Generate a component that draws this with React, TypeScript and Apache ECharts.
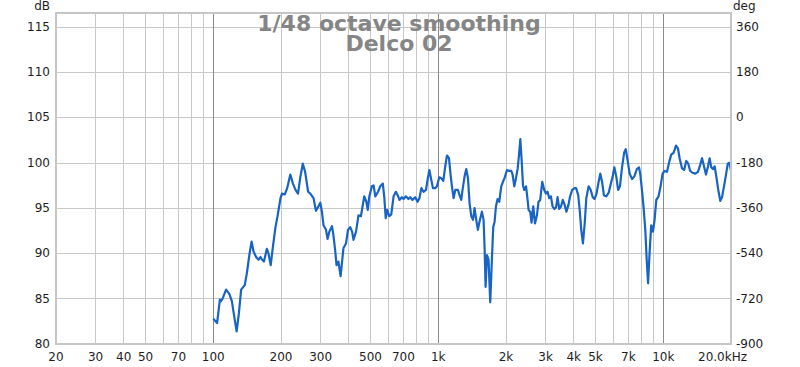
import React, { useEffect, useRef } from 'react';
import * as echarts from 'echarts';

const freqHz = [
  100, 104, 107, 108, 110, 114, 118, 121, 124, 127,
  130, 133, 138, 141, 145, 148, 151, 155, 159, 162,
  165, 168, 173, 176, 180, 184, 189, 193, 199, 202,
  208, 213, 220, 226, 232, 238, 244, 250, 256, 264,
  270, 279, 286, 292, 299, 304, 309, 317, 322, 328,
  337, 342, 348, 353, 360, 368, 373, 379, 389, 397,
  406, 414, 420, 431, 442, 453, 461, 469, 479, 486,
  494, 507, 516, 525, 540, 552, 567, 576, 584, 593,
  606, 618, 633, 648, 661, 672, 689, 701, 718, 737,
  750, 768, 790, 809, 825, 841, 860, 882, 896, 913,
  928, 947, 970, 987, 1010, 1031, 1053, 1074, 1093, 1116,
  1134, 1150, 1170, 1190, 1223, 1244, 1265, 1282, 1309, 1332,
  1355, 1378, 1402, 1427, 1450, 1475, 1500, 1525, 1563, 1590,
  1606, 1623, 1646, 1673, 1702, 1733, 1755, 1780, 1805, 1835,
  1867, 1905, 1939, 1970, 2020, 2069, 2111, 2140, 2177, 2215,
  2255, 2285, 2316, 2347, 2380, 2410, 2455, 2495, 2520, 2563,
  2597, 2644, 2690, 2745, 2790, 2839, 2898, 2958, 3010, 3060,
  3113, 3168, 3220, 3280, 3340, 3390, 3450, 3514, 3575, 3630,
  3712, 3785, 3855, 3935, 4035, 4100, 4190, 4265, 4320, 4395,
  4475, 4550, 4660, 4760, 4860, 4950, 5050, 5160, 5250, 5345,
  5450, 5580, 5720, 5820, 5960, 6060, 6180, 6300, 6420, 6550,
  6700, 6810, 6940, 7090, 7270, 7440, 7630, 7800, 7900, 8040,
  8180, 8320, 8440, 8560, 8690, 8840, 9000, 9150, 9310, 9530,
  9730, 9930, 10130, 10390, 10630, 10850, 11110, 11390, 11620, 11820,
  12110, 12380, 12650, 12910, 13170, 13480, 13870, 14270, 14600, 14870,
  15180, 15480, 15800, 16070, 16340, 16620, 16920, 17200, 17560, 17920,
  18240, 18560, 18950, 19350, 19690, 19960,
];

const splDb = [
  82.8, 82.3, 84.9, 84.7, 85.0, 86.0, 85.5, 84.7, 83.0, 81.4,
  83.4, 86.0, 86.5, 87.8, 90.0, 91.3, 90.2, 89.6, 89.3, 89.6,
  89.3, 89.1, 90.5, 90.0, 88.7, 90.7, 92.9, 94.1, 96.1, 96.6,
  96.5, 97.2, 98.7, 97.7, 97.0, 96.6, 98.5, 99.9, 99.0, 96.8,
  96.6, 96.1, 94.7, 95.1, 95.6, 94.6, 93.1, 92.6, 91.6, 92.4,
  93.0, 92.0, 90.4, 88.7, 89.1, 87.5, 88.9, 90.6, 91.1, 92.6,
  92.9, 92.4, 91.5, 92.4, 94.2, 94.1, 95.2, 96.3, 95.7, 94.8,
  96.3, 97.4, 97.5, 96.3, 96.8, 97.4, 97.7, 96.1, 93.9, 94.8,
  94.1, 94.3, 96.3, 96.8, 96.4, 95.9, 96.2, 96.0, 96.3, 96.0,
  96.2, 95.9, 96.2, 95.7, 96.1, 97.2, 96.8, 97.0, 98.1, 99.2,
  98.3, 97.2, 97.2, 97.4, 98.4, 98.3, 98.0, 99.6, 100.8, 100.5,
  98.7, 97.4, 96.1, 97.0, 97.0, 96.4, 95.9, 97.0, 98.5, 99.3,
  98.3, 95.5, 94.1, 93.7, 95.0, 93.7, 92.6, 93.5, 94.6, 93.7,
  90.7, 86.3, 89.8, 89.3, 84.6, 89.6, 92.9, 93.5, 95.2, 96.0,
  95.7, 97.4, 97.9, 98.3, 99.2, 99.1, 99.1, 98.7, 97.4, 98.3,
  99.4, 100.9, 102.6, 100.3, 97.5, 97.0, 97.4, 95.9, 94.8, 94.6,
  93.4, 95.2, 93.3, 94.2, 95.7, 95.9, 97.9, 97.0, 96.6, 96.8,
  96.1, 96.3, 95.2, 94.9, 95.1, 96.2, 94.9, 95.2, 95.9, 95.5,
  94.6, 95.3, 96.3, 97.0, 97.2, 97.2, 96.4, 94.4, 92.6, 91.1,
  93.3, 96.1, 97.4, 97.0, 96.2, 96.0, 96.6, 97.9, 98.8, 97.9,
  96.4, 96.3, 96.7, 97.5, 98.5, 99.5, 98.5, 97.0, 97.4, 99.4,
  101.1, 101.5, 100.3, 98.8, 98.2, 98.5, 99.3, 99.5, 98.8, 97.0,
  95.0, 92.6, 89.3, 86.7, 90.0, 93.1, 92.4, 93.7, 95.9, 96.3,
  97.4, 98.8, 99.1, 99.0, 100.1, 100.9, 101.1, 101.9, 101.6, 100.5,
  99.4, 99.2, 100.2, 99.9, 99.1, 98.9, 98.8, 99.0, 99.8, 100.5,
  99.6, 98.7, 99.6, 100.5, 99.5, 99.3, 99.6, 98.5, 97.0, 95.8,
  96.2, 97.2, 98.5, 99.9, 100.0, 99.2,
];

const dbTicks = [80, 85, 90, 95, 100, 105, 110, 115];
const degTicks = [-900, -720, -540, -360, -180, 0, 180, 360];
const freqLabels = [20, 30, 40, 50, 70, 100, 200, 300, 500, 700, 1000, 2000, 3000, 4000, 5000, 7000, 10000];
const minorGridHz = [
  30, 40, 50, 60, 70, 80, 90,
  200, 300, 400, 500, 600, 700, 800, 900,
  2000, 3000, 4000, 5000, 6000, 7000, 8000, 9000,
];
const decadeGridHz = [100, 1000, 10000];
const titleLines = ['1/48 octave smoothing', 'Delco 02'];

const F_MIN = 20;
const F_MAX = 20000;
const DB_MIN = 80;
const DB_MAX = 116.53;
const DEG_MIN = -900;
const DEG_MAX = 415;

const lg = (v: number) => Math.log10(v);

const fmtFreq = (v: number) => {
  const f = Math.round(Math.pow(10, v));
  if (f >= 1000) return f / 1000 + 'k';
  return String(f);
};

export default function App() {
  const ref = useRef<HTMLDivElement>(null);

  useEffect(() => {
    document.body.style.margin = '0';
    if (!ref.current) return;
    const chart = echarts.init(ref.current, undefined, { renderer: 'svg' });
    const font = 'DejaVu Sans';
    const labelStyle = { fontFamily: font, fontSize: 12, color: '#1e1e1e' };

    const titleStyle = (text: string) => ({
      text,
      fontFamily: font,
      fontWeight: 'bold',
      fontSize: 22,
      fill: '#858585',
      textAlign: 'center',
      textVerticalAlign: 'middle',
    });

    chart.setOption({
      animation: false,
      backgroundColor: '#ffffff',
      grid: {
        left: 56,
        top: 13,
        width: 675,
        height: 331,
        show: true,
        borderColor: '#c6c6c6',
        borderWidth: 2,
        backgroundColor: 'transparent',
        z: 10,
      },
      xAxis: [
        {
          type: 'value',
          min: lg(F_MIN),
          max: lg(F_MAX),
          axisLine: { show: false },
          axisTick: { show: false, customValues: minorGridHz.map(lg) },
          axisLabel: { show: false },
          splitLine: { show: true, lineStyle: { color: '#c8c8c8', width: 1 } },
        },
        {
          type: 'value',
          min: lg(F_MIN),
          max: lg(F_MAX),
          position: 'bottom',
          axisLine: { show: false },
          axisTick: { show: false, customValues: decadeGridHz.map(lg) },
          axisLabel: { show: false },
          splitLine: { show: true, lineStyle: { color: '#8a8a8a', width: 1 } },
        },
        {
          type: 'value',
          min: lg(F_MIN),
          max: lg(F_MAX),
          position: 'bottom',
          axisLine: { show: false },
          axisTick: { show: false, customValues: freqLabels.map(lg) },
          axisLabel: {
            ...labelStyle,
            margin: 7,
            customValues: freqLabels.map(lg),
            formatter: fmtFreq,
          },
          splitLine: { show: false },
        },
      ],
      yAxis: [
        {
          type: 'value',
          min: DB_MIN,
          max: DB_MAX,
          axisLine: { show: false },
          axisTick: { show: false, customValues: dbTicks },
          axisLabel: { ...labelStyle, margin: 6, customValues: dbTicks },
          splitLine: { show: true, lineStyle: { color: '#c8c8c8', width: 1 } },
        },
        {
          type: 'value',
          min: DEG_MIN,
          max: DEG_MAX,
          position: 'right',
          axisLine: { show: false },
          axisTick: { show: false, customValues: degTicks },
          axisLabel: { ...labelStyle, margin: 5, customValues: degTicks },
          splitLine: { show: false },
        },
      ],
      graphic: [
        { type: 'text', x: 399, y: 23.5, style: titleStyle(titleLines[0]), z: 20 },
        { type: 'text', x: 399, y: 43.5, style: titleStyle(titleLines[1]), z: 20 },
        {
          type: 'text',
          x: 50,
          y: 6,
          style: {
            text: 'dB',
            fontFamily: font,
            fontSize: 12,
            fill: '#1e1e1e',
            textAlign: 'right',
            textVerticalAlign: 'middle',
          },
        },
        {
          type: 'text',
          x: 733,
          y: 6,
          style: {
            text: 'deg',
            fontFamily: font,
            fontSize: 12,
            fill: '#1e1e1e',
            textAlign: 'left',
            textVerticalAlign: 'middle',
          },
        },
        {
          type: 'text',
          x: 698,
          y: 357,
          style: {
            text: '20.0kHz',
            fontFamily: font,
            fontSize: 12,
            fill: '#1e1e1e',
            textAlign: 'left',
            textVerticalAlign: 'middle',
          },
        },
      ],
      series: [
        {
          type: 'line',
          xAxisIndex: 0,
          yAxisIndex: 0,
          showSymbol: false,
          symbol: 'none',
          data: freqHz.map((f, i) => [lg(f), splDb[i]]),
          lineStyle: { color: '#1763c6', width: 2.2, join: 'round' },
          z: 5,
        },
      ],
    });

    return () => {
      chart.dispose();
    };
  }, []);

  return (
    <div
      ref={ref}
      style={{ position: 'fixed', left: 0, top: 0, width: 800, height: 367, background: '#fff' }}
    />
  );
}
